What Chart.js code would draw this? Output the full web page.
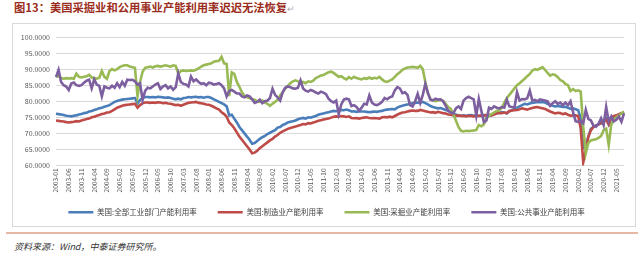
<!DOCTYPE html>
<html>
<head>
<meta charset="utf-8">
<script src="https://cdn.jsdelivr.net/npm/chart.js@4.4.0/dist/chart.umd.min.js"></script>
<style>
  body { margin: 0; width: 640px; height: 263px; background: #fff; position: relative; overflow: hidden; font-family: "Noto Sans CJK SC", sans-serif; }
  #title { position: absolute; left: 14px; top: -1px; font-size: 11.3px; font-weight: bold; color: #9b2d20; white-space: nowrap; }
  #title span { color: #b0b0b0; font-weight: normal; font-size: 9px; }
  #box { position: absolute; left: 12px; top: 23px; width: 622px; height: 202px; border: 1px solid #d9d9d9; }
  #rule { position: absolute; left: 6px; top: 232px; width: 632px; height: 2px; background: #e6b9a6; }
  #src { position: absolute; left: 14px; top: 240px; font-size: 9px; font-style: italic; color: #333; white-space: nowrap; }
  canvas { position: absolute; left: 0; top: 0; }
</style>
</head>
<body>
<div id="title">图13：美国采掘业和公用事业产能利用率迟迟无法恢复<span>↵</span></div>
<div id="box"><canvas id="c" width="622" height="202"></canvas></div>
<div id="rule"></div>
<div id="src">资料来源：Wind，中泰证券研究所。</div>
<script>
// 月度数据 2003-01 ~ 2021-08
const months = [];
for (let y = 2003; y <= 2021; y++)
    for (let m = 1; m <= 12; m++) {
        if (y == 2021 && m > 8) break;
        months.push(y + '-' + (m < 10 ? '0' + m : m));
    }

const seriesNames = ['美国:全部工业部门产能利用率', '美国:制造业产能利用率', '美国:采掘业产能利用率', '美国:公共事业产能利用率'];
const seriesColors = ['#4a7ebb', '#be4b48', '#98b954', '#7d5fa0'];

const total = [
    76.1, 76.0, 75.9, 75.7, 75.5, 75.4, 75.3, 75.5, 75.6, 75.9, 76.0, 76.3,
    76.4, 76.8, 77.0, 77.3, 77.5, 77.8, 78.0, 78.3, 78.5, 78.8, 79.3, 79.8,
    80.1, 80.3, 80.5, 80.6, 80.7, 80.8, 80.9, 81.0, 79.3, 80.4, 81.0, 81.3,
    81.3, 81.2, 81.3, 81.2, 81.4, 81.3, 81.2, 81.1, 81.2, 81.0, 80.8, 80.6,
    80.8, 80.6, 81.0, 81.1, 81.3, 81.2, 81.3, 81.4, 81.2, 81.3, 81.1, 81.3,
    81.3, 81.0, 80.6, 80.2, 79.8, 79.4, 79.0, 78.4, 75.6, 75.8, 74.6, 73.4,
    72.0, 71.0, 70.0, 69.0, 68.0, 66.8, 67.0, 67.6, 68.3, 68.8, 69.2, 69.8,
    70.2, 70.6, 71.0, 71.8, 72.0, 72.6, 72.9, 73.4, 73.6, 73.8, 74.0, 74.4,
    74.6, 74.8, 74.6, 75.0, 74.9, 75.2, 75.4, 75.8, 76.0, 76.2, 76.4, 76.6,
    76.8, 77.0, 76.9, 77.1, 77.3, 77.2, 77.4, 77.2, 76.8, 76.9, 76.7, 76.9,
    76.8, 76.8, 76.7, 76.6, 76.7, 76.8, 76.7, 76.9, 77.0, 77.3, 77.4, 77.5,
    77.6, 77.5, 78.0, 78.4, 78.6, 78.8, 79.0, 79.2, 79.4, 79.5, 79.6, 79.5,
    79.8, 79.4, 79.0, 78.5, 78.2, 78.0, 77.8, 77.9, 77.6, 77.3, 77.0, 76.6,
    76.3, 75.8, 75.6, 75.5, 75.6, 75.5, 75.6, 75.7, 75.5, 75.6, 75.5, 75.4,
    75.7, 75.6, 75.4, 75.6, 76.2, 76.4, 76.3, 76.6, 76.5, 76.2, 77.0, 77.2,
    77.5, 78.0, 78.4, 78.8, 79.2, 79.0, 79.3, 79.5, 79.6, 79.8, 79.7, 79.8,
    79.6, 79.2, 78.8, 78.6, 78.4, 78.5, 78.4, 78.2, 78.3, 78.0, 77.6, 77.8,
    77.5, 77.2, 74.8, 65.5, 66.2, 69.0, 71.4, 72.0, 72.4, 72.8, 73.2, 74.0,
    74.6, 72.8, 74.8, 75.2, 75.4, 75.8, 76.2, 76.5
];

const manufacturing = [
    74.0, 73.9, 73.8, 73.7, 73.5, 73.4, 73.5, 73.6, 73.8, 73.7, 74.0, 74.2,
    74.5, 74.6, 75.0, 75.2, 75.5, 75.7, 76.0, 76.2, 76.5, 76.6, 77.0, 77.5,
    78.0, 78.3, 78.6, 78.8, 78.9, 79.0, 79.1, 79.2, 78.0, 78.8, 79.4, 79.6,
    79.6, 79.5, 79.6, 79.5, 79.7, 79.6, 79.4, 79.5, 79.3, 79.2, 79.0, 78.8,
    78.9, 78.6, 78.9, 79.2, 79.5, 79.6, 79.7, 79.8, 79.5, 79.4, 79.2, 79.0,
    78.9, 78.6, 78.2, 77.8, 77.4, 76.6, 76.0, 75.2, 73.4, 72.6, 71.6, 70.3,
    69.0, 68.0, 67.0, 66.0, 65.0, 63.8, 64.0, 64.6, 65.4, 66.0, 66.6, 67.2,
    67.8, 68.3, 69.0, 69.5, 70.2, 70.6, 71.0, 71.4, 71.7, 71.9, 72.1, 72.4,
    72.6, 72.9, 72.8, 73.2, 73.1, 73.4, 73.6, 73.9, 74.1, 74.3, 74.5, 74.6,
    74.9, 75.2, 75.3, 75.2, 75.4, 75.3, 75.1, 75.3, 74.8, 74.7, 74.8, 74.6,
    74.8, 74.9, 75.0, 74.8, 74.7, 74.8, 74.7, 74.6, 75.0, 75.1, 75.0, 75.2,
    75.0, 75.4, 75.8, 76.2, 76.5, 76.6, 76.8, 77.0, 77.1, 77.0, 77.0, 77.3,
    77.1, 76.9, 76.7, 76.5, 76.6, 76.4, 76.7, 76.5, 76.3, 76.2, 75.9, 75.8,
    75.6, 75.5, 75.6, 75.4, 75.5, 75.3, 75.5, 75.4, 75.3, 75.5, 75.4, 75.6,
    75.5, 75.7, 75.8, 75.6, 75.9, 76.2, 76.4, 76.3, 76.5, 76.3, 76.9, 77.1,
    77.2, 77.3, 77.5, 77.8, 77.6, 77.4, 77.7, 77.9, 78.1, 78.2, 78.0, 77.8,
    77.6, 77.2, 76.8, 76.5, 76.2, 76.4, 76.3, 76.0, 76.2, 75.8, 75.5, 75.6,
    75.6, 75.4, 71.5, 61.0, 64.8, 68.9, 71.0, 72.0, 72.4, 72.8, 73.2, 73.8,
    74.2, 72.8, 75.0, 75.4, 75.6, 76.0, 76.3, 76.6
];

const mining = [
    87.6, 87.8, 87.2, 87.0, 87.2, 87.1, 87.2, 87.0, 88.6, 87.6, 87.4, 87.6,
    87.8, 88.2, 87.4, 87.2, 87.0, 87.3, 89.4, 87.6, 87.0, 89.4, 90.0, 89.6,
    90.0, 90.6, 91.0, 91.2, 91.2, 90.8, 90.6, 90.4, 81.6, 86.0, 89.2, 90.4,
    90.6, 90.8, 90.5, 90.9, 91.0, 90.8, 91.0, 91.2, 91.0, 90.8, 91.2, 91.0,
    88.6, 89.4, 89.6, 89.4, 89.5, 89.6, 89.5, 89.8, 90.2, 90.8, 91.2, 91.4,
    91.6, 91.8, 92.3, 92.5, 92.6, 93.8, 91.8, 91.6, 81.6, 89.0, 88.5, 86.0,
    84.5, 82.8, 81.8, 81.2, 81.0, 80.6, 80.5, 80.0, 79.8, 80.2, 79.6, 79.2,
    78.6, 79.2, 79.8, 80.5, 81.8, 82.8, 84.0, 84.8, 85.6, 86.2, 86.5, 86.2,
    85.8, 86.0, 85.6, 86.2, 86.0, 86.4, 87.2, 87.6, 88.0, 88.2, 88.6, 89.0,
    89.2, 88.8, 88.2, 87.6, 87.8, 87.2, 86.8, 87.5, 87.0, 87.6, 87.2, 87.0,
    86.8, 87.2, 87.0, 87.4, 87.0, 87.3, 87.1, 87.6, 86.8, 86.2, 86.0, 86.4,
    86.8, 87.6, 88.4, 89.0, 89.8, 90.2, 90.5, 90.6, 90.7, 90.6, 90.4, 91.0,
    90.0, 86.0, 82.5, 80.7, 80.2, 80.0, 80.3, 80.4, 80.1, 79.2, 78.2, 77.6,
    76.0, 74.0, 72.0, 70.8, 70.6, 70.8, 70.7, 70.8, 70.9, 71.0, 72.6, 72.2,
    72.8, 74.8, 75.5, 76.0, 76.5, 77.0, 77.2, 78.0, 79.5, 81.0, 82.0, 83.0,
    84.0, 85.0, 85.6, 86.3, 87.0, 87.8, 88.5, 89.5, 90.0, 89.8, 90.2, 90.6,
    89.8, 88.8, 88.0, 88.4, 88.2, 87.5, 86.6, 86.2, 85.4, 85.0, 83.2, 83.8,
    83.2, 83.4, 83.0, 72.0, 63.8, 67.0, 67.8, 68.0, 68.2, 68.6, 69.2, 71.0,
    71.5, 66.4, 72.7, 74.2, 75.0, 75.6, 76.2, 76.8
];

const utilities = [
    87.5, 89.8, 86.0, 85.0, 84.6, 83.5, 85.5, 85.8, 85.0, 84.8, 85.0, 85.8,
    86.4, 86.7, 84.0, 86.8, 85.2, 84.8, 81.5, 84.6, 84.2, 84.0, 84.8, 84.2,
    85.6, 84.4, 86.0, 84.8, 86.7, 86.6, 86.7, 86.2, 85.2, 85.6, 80.4, 83.2,
    84.2, 84.0, 84.6, 85.2, 85.6, 83.8, 84.6, 85.0, 84.0, 84.6, 83.6, 84.4,
    88.7, 86.0, 85.4, 85.2, 84.6, 87.7, 86.2, 86.8, 86.0, 85.4, 85.6, 85.0,
    85.8, 85.6, 85.2, 85.4, 85.6, 85.0, 84.0, 81.5, 83.2, 83.5, 83.0, 82.4,
    82.4, 81.5, 81.2, 81.8, 81.5, 80.6, 79.5, 79.8, 80.5, 79.4, 80.0, 80.2,
    81.0, 83.9, 82.0, 81.2, 80.2, 82.8, 84.2, 84.6, 84.4, 84.0, 83.9, 84.2,
    86.5, 84.0, 83.3, 83.0, 83.5, 83.2, 82.7, 82.4, 83.0, 82.7, 82.2, 80.8,
    80.0, 79.6, 80.2, 76.0, 79.0, 80.5, 80.8, 80.6, 78.5, 78.8, 78.2, 77.1,
    78.0, 79.2, 79.0, 81.8, 79.6, 79.0, 78.8, 79.2, 79.8, 81.0, 80.6, 81.2,
    81.5, 83.4, 84.4, 84.0, 82.5, 82.8, 82.0, 78.8, 78.4, 80.0, 82.3, 79.5,
    82.0, 85.4, 82.6, 80.5, 80.3, 80.8, 80.5, 80.6, 80.0, 78.6, 77.0, 76.5,
    76.2, 77.8, 78.4, 77.6, 80.2, 81.0, 81.4, 81.0, 80.6, 75.5, 80.7, 77.0,
    73.5, 74.0, 78.0, 77.6, 78.4, 78.0, 77.8, 78.2, 78.0, 80.5, 78.4, 78.2,
    78.0, 82.8, 80.2, 80.7, 80.6, 80.9, 83.3, 80.2, 80.4, 80.0, 80.6, 80.4,
    80.2, 80.0, 78.6, 79.4, 80.0, 79.2, 79.6, 78.8, 79.6, 78.8, 80.0, 76.6,
    73.8, 73.6, 74.0, 73.2, 77.3, 74.5, 74.0, 72.4, 72.1, 73.0, 74.7, 72.6,
    78.2, 73.7, 75.3, 73.7, 74.2, 75.2, 73.6, 76.2
];

const yMin = 60, yMax = 100, yStep = 5;
const tickEvery = 5;

const font = '"Noto Sans CJK SC", "Noto Sans", sans-serif';

const datasets = [total, manufacturing, mining, utilities].map((d, k) => ({
    label: seriesNames[k],
    data: d,
    borderColor: seriesColors[k],
    backgroundColor: seriesColors[k],
    borderWidth: 2.6,
    pointRadius: 0,
    tension: 0,
    fill: false,
    order: 4 - k   // 公共事业画在最上层
}));

const chart = new Chart(document.getElementById('c'), {
    type: 'line',
    data: { labels: months, datasets: datasets },
    options: {
        responsive: false,
        animation: false,
        devicePixelRatio: 1,
        layout: { padding: { left: 5, right: 0, top: 13, bottom: 0 } },
        plugins: {
            tooltip: { enabled: false },
            legend: {
                position: 'bottom',
                labels: {
                    boxWidth: 25,
                    boxHeight: 2.5,
                    padding: 21,
                    color: '#404040',
                    font: { family: font, size: 7.5 },
                    sort: (a, b) => a.datasetIndex - b.datasetIndex,
                    generateLabels: ch => Chart.defaults.plugins.legend.labels.generateLabels(ch)
                        .map(l => Object.assign(l, { lineWidth: 0 }))
                }
            }
        },
        scales: {
            x: {
                offset: false,
                grid: { display: false, drawTicks: false },
                border: { display: false },
                ticks: {
                    autoSkip: false,
                    minRotation: 90,
                    maxRotation: 90,
                    padding: 3,
                    color: '#595959',
                    font: { family: font, size: 6.5 },
                    callback: function (v, i) { return i % tickEvery == 0 ? months[i] : null; }
                },
                afterFit: s => { s.height = 22; }
            },
            y: {
                min: yMin,
                max: yMax,
                grid: { color: '#d9d9d9', lineWidth: 1, drawTicks: false },
                border: { display: false },
                ticks: {
                    stepSize: yStep,
                    padding: 6,
                    color: '#595959',
                    font: { family: font, size: 7 },
                    callback: v => v.toFixed(4)
                },
                afterFit: s => { s.width = 38; }
            },
            // 右侧留白
            yr: {
                position: 'right',
                display: true,
                grid: { display: false, drawTicks: false },
                border: { display: false },
                ticks: { display: false },
                afterFit: s => { s.width = 11; }
            }
        }
    }
});
// 竖排日期标签比坐标轴高，不裁剪
chart.scales.x._computeLabelArea = () => undefined;
chart.draw();
</script>
</body>
</html>
